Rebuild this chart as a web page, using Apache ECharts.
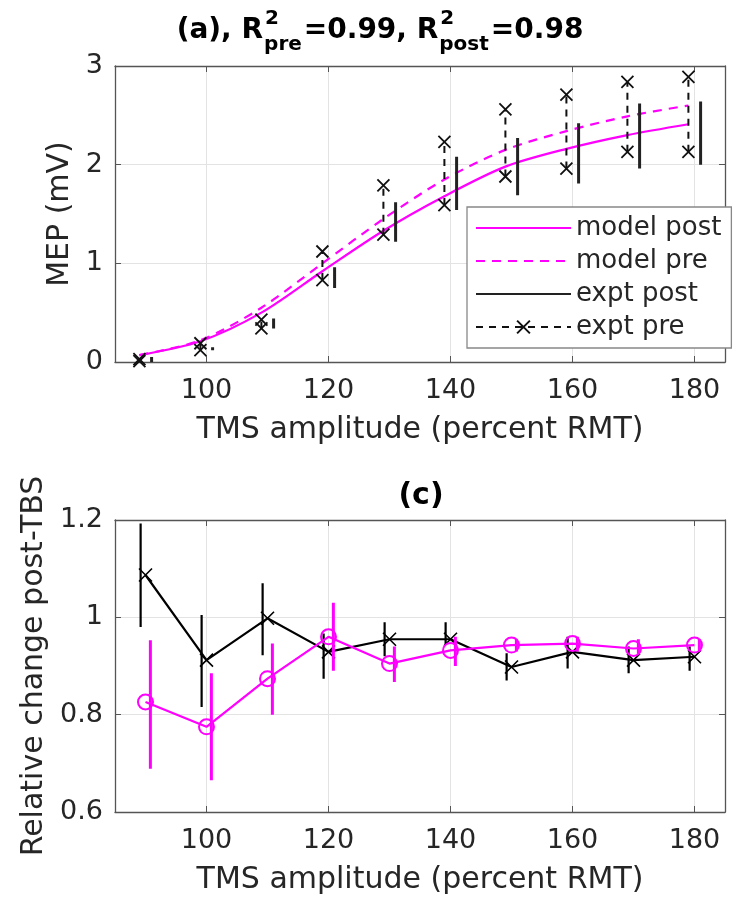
<!DOCTYPE html>
<html>
<head>
<meta charset="utf-8">
<script src="https://cdn.jsdelivr.net/npm/echarts@6/dist/echarts.min.js"></script>
<style>
    html, body { margin: 0; padding: 0; background: #fff; }
    #chart { width: 751px; height: 900px; }
</style>
</head>
<body>
<div id="chart"></div>
<script>
// TMS amplitude (percent RMT)
const amp = [90, 100, 110, 120, 130, 140, 150, 160, 170, 180];
const xTicks = [100, 120, 140, 160, 180];

// (a) MEP (mV)
const modelPost = [0.07, 0.21, 0.50, 0.92, 1.33, 1.68, 1.98, 2.16, 2.30, 2.41];
const modelPre = [0.07, 0.22, 0.55, 1.00, 1.45, 1.85, 2.15, 2.34, 2.49, 2.60];
const exptPreLo = [0.01, 0.12, 0.34, 0.83, 1.29, 1.59, 1.88, 1.96, 2.13, 2.13];
const exptPreHi = [0.03, 0.19, 0.43, 1.12, 1.79, 2.23, 2.56, 2.71, 2.84, 2.89];
const exptPostLo = [0.00, 0.12, 0.34, 0.75, 1.22, 1.54, 1.69, 1.81, 1.96, 2.00];
const exptPostHi = [0.05, 0.15, 0.44, 0.96, 1.62, 2.08, 2.27, 2.42, 2.62, 2.64];

// (c) relative change post-TBS
const relExpt = [1.087, 0.912, 0.998, 0.929, 0.955, 0.955, 0.898, 0.929, 0.912, 0.919];
const relExptLo = [0.980, 0.816, 0.922, 0.874, 0.920, 0.943, 0.870, 0.895, 0.885, 0.890];
const relExptHi = [1.193, 1.005, 1.070, 0.967, 0.990, 0.990, 0.926, 0.960, 0.940, 0.940];
const relModel = [0.826, 0.775, 0.874, 0.960, 0.905, 0.932, 0.943, 0.946, 0.936, 0.943];
const relModelLo = [0.689, 0.665, 0.800, 0.890, 0.867, 0.900, 0.930, 0.930, 0.925, 0.930];
const relModelHi = [0.953, 0.885, 0.946, 1.030, 0.940, 0.960, 0.955, 0.960, 0.955, 0.955];

const FONT = 'DejaVu Sans';
const MAGENTA = '#ff00ff';
const TXT = '#262626';
const XMARK = 'path://M0,0L10,10M0,10L10,0';

// [x, y] pairs
function pts(xs, ys, dx) {
    return xs.map((x, i) => [x + dx, ys[i]]);
}
// vertical segments lo..hi, broken by '-'
function bars(xs, lo, hi, dx) {
    const out = [];
    xs.forEach((x, i) => {
        out.push([x + dx, lo[i]], [x + dx, hi[i]], [x + dx, '-']);
    });
    return out;
}

function xAxisCfg(grid, pos, withLabels) {
    return {
        type: 'value', gridIndex: grid, position: pos,
        min: 85, max: 185,
        name: withLabels ? 'TMS amplitude (percent RMT)' : '',
        nameLocation: 'middle', nameGap: 53,
        nameTextStyle: {fontFamily: FONT, fontSize: 30, color: TXT},
        axisLine: {show: true, onZero: false, lineStyle: {color: '#555', width: 1.3}},
        axisTick: {show: true, inside: true, length: 6, customValues: xTicks, lineStyle: {color: '#555'}},
        axisLabel: {show: withLabels, customValues: xTicks, margin: 15,
            fontFamily: FONT, fontSize: 27, color: TXT},
        splitLine: {show: withLabels, lineStyle: {color: '#e3e3e3', width: 1}}
    };
}

function yAxisCfg(grid, pos, withLabels, min, max, step, nameText, gap) {
    return {
        type: 'value', gridIndex: grid, position: pos,
        min: min, max: max, interval: step,
        name: withLabels ? nameText : '',
        nameLocation: 'middle', nameGap: gap,
        nameTextStyle: {fontFamily: FONT, fontSize: 30, color: TXT},
        axisLine: {show: true, onZero: false, lineStyle: {color: '#555', width: 1.3}},
        axisTick: {show: true, inside: true, length: 6, lineStyle: {color: '#555'}},
        axisLabel: {show: withLabels, margin: 12, fontFamily: FONT, fontSize: 27, color: TXT,
            showMinLabel: true, showMaxLabel: true},
        splitLine: {show: withLabels, lineStyle: {color: '#e3e3e3', width: 1}}
    };
}

// 标题 (a)：R^2 上下标，用 canvas 量宽度后拼起来
const cvs = document.createElement('canvas').getContext('2d');
function textW(t, size) {
    cvs.font = 'bold ' + size + 'px "' + FONT + '"';
    return cvs.measureText(t).width;
}
function buildTitle(cx, cy) {
    const big = 28, small = 20;
    const parts = [
        {t: '(a), R'},
        {sup: '2', sub: 'pre'},
        {t: '=0.99, R'},
        {sup: '2', sub: 'post'},
        {t: '=0.98'}
    ];
    let total = 0;
    parts.forEach(p => {
        p.w = p.t ? textW(p.t, big) : Math.max(textW(p.sup, small), textW(p.sub, small)) + 3;
        total += p.w;
    });
    let x = cx - total / 2;
    const els = [];
    const mk = (t, px, py, size) => ({
        type: 'text', x: px, y: py,
        style: {text: t, fontFamily: FONT, fontWeight: 'bold', fontSize: size, fill: '#000',
            textAlign: 'left', textVerticalAlign: 'middle', verticalAlign: 'middle'}
    });
    parts.forEach(p => {
        if (p.t) {
            els.push(mk(p.t, x, cy, big));
        } else {
            els.push(mk(p.sup, x + 2, cy - 12, small));
            els.push(mk(p.sub, x + 1, cy + 14, small));
        }
        x += p.w;
    });
    return els;
}

const chart = echarts.init(document.getElementById('chart'), null, {renderer: 'canvas'});

// 图例里不要圆点
const noDot = {opacity: 0, borderWidth: 0};

const option = {
    backgroundColor: '#fff',
    animation: false,
    grid: [
        {left: 115, top: 66, width: 610, height: 296},
        {left: 115, top: 520, width: 610, height: 292}
    ],
    xAxis: [
        xAxisCfg(0, 'bottom', true),
        xAxisCfg(1, 'bottom', true),
        xAxisCfg(0, 'top', false),
        xAxisCfg(1, 'top', false)
    ],
    yAxis: [
        yAxisCfg(0, 'left', true, 0, 3, 1, 'MEP (mV)', 36),
        yAxisCfg(1, 'left', true, 0.6, 1.2, 0.2, 'Relative change post-TBS', 66),
        yAxisCfg(0, 'right', false, 0, 3, 1, '', 0),
        yAxisCfg(1, 'right', false, 0.6, 1.2, 0.2, '', 0)
    ],
    legend: {
        left: 467, top: 207,
        orient: 'vertical',
        backgroundColor: '#fff',
        borderColor: '#888', borderWidth: 1.3,
        padding: [8, 10, 8, 8],
        itemWidth: 95, itemHeight: 16, itemGap: 7,
        selectedMode: false,
        textStyle: {fontFamily: FONT, fontSize: 26, color: TXT},
        data: [
            {name: 'model post', itemStyle: noDot},
            {name: 'model pre', itemStyle: noDot},
            {name: 'expt post', itemStyle: noDot},
            'expt pre'
        ]
    },
    graphic: buildTitle(380, 31).concat([{
        type: 'text', x: 421, y: 496,
        style: {text: '(c)', fontFamily: FONT, fontWeight: 'bold', fontSize: 30, fill: '#000',
            textAlign: 'center', textVerticalAlign: 'middle', verticalAlign: 'middle'}
    }]),
    series: [
        {
            name: 'model post', type: 'line', xAxisIndex: 0, yAxisIndex: 0,
            data: pts(amp, modelPost, -1), symbol: 'none', smooth: 0.3,
            lineStyle: {color: MAGENTA, width: 2.2}, itemStyle: {color: MAGENTA}, z: 2
        },
        {
            name: 'model pre', type: 'line', xAxisIndex: 0, yAxisIndex: 0,
            data: pts(amp, modelPre, -1), symbol: 'none', smooth: 0.3,
            lineStyle: {color: MAGENTA, width: 2.2, type: [9, 7]}, itemStyle: {color: MAGENTA}, z: 2
        },
        {
            name: 'expt post', type: 'line', xAxisIndex: 0, yAxisIndex: 0,
            data: bars(amp, exptPostLo, exptPostHi, 1), symbol: 'none', connectNulls: false,
            lineStyle: {color: '#222', width: 3}, itemStyle: {color: '#222'}, z: 3
        },
        {
            name: 'expt pre', type: 'line', xAxisIndex: 0, yAxisIndex: 0,
            data: bars(amp, exptPreLo, exptPreHi, -1), connectNulls: false,
            symbol: XMARK, symbolSize: 12, showSymbol: true,
            lineStyle: {color: '#111', width: 2, type: [7, 6]},
            itemStyle: {color: '#111', borderColor: '#111', borderWidth: 1.8}, z: 3
        },
        // (c)
        {
            name: 'rel expt bars', type: 'line', xAxisIndex: 1, yAxisIndex: 1,
            data: bars(amp, relExptLo, relExptHi, -0.8), symbol: 'none', connectNulls: false,
            lineStyle: {color: '#000', width: 2.2}, z: 2
        },
        {
            name: 'rel expt', type: 'line', xAxisIndex: 1, yAxisIndex: 1,
            data: pts(amp, relExpt, 0), symbol: XMARK, symbolSize: 13,
            lineStyle: {color: '#000', width: 2.2},
            itemStyle: {color: '#000', borderColor: '#000', borderWidth: 1.6}, z: 2
        },
        {
            name: 'rel model bars', type: 'line', xAxisIndex: 1, yAxisIndex: 1,
            data: bars(amp, relModelLo, relModelHi, 0.8), symbol: 'none', connectNulls: false,
            lineStyle: {color: MAGENTA, width: 3}, z: 3
        },
        {
            name: 'rel model', type: 'line', xAxisIndex: 1, yAxisIndex: 1,
            data: pts(amp, relModel, 0), symbol: 'circle', symbolSize: 15,
            lineStyle: {color: MAGENTA, width: 2.2},
            itemStyle: {color: 'rgba(255,0,255,0)', borderColor: MAGENTA, borderWidth: 2}, z: 3
        }
    ]
};

chart.setOption(option);
</script>
</body>
</html>
